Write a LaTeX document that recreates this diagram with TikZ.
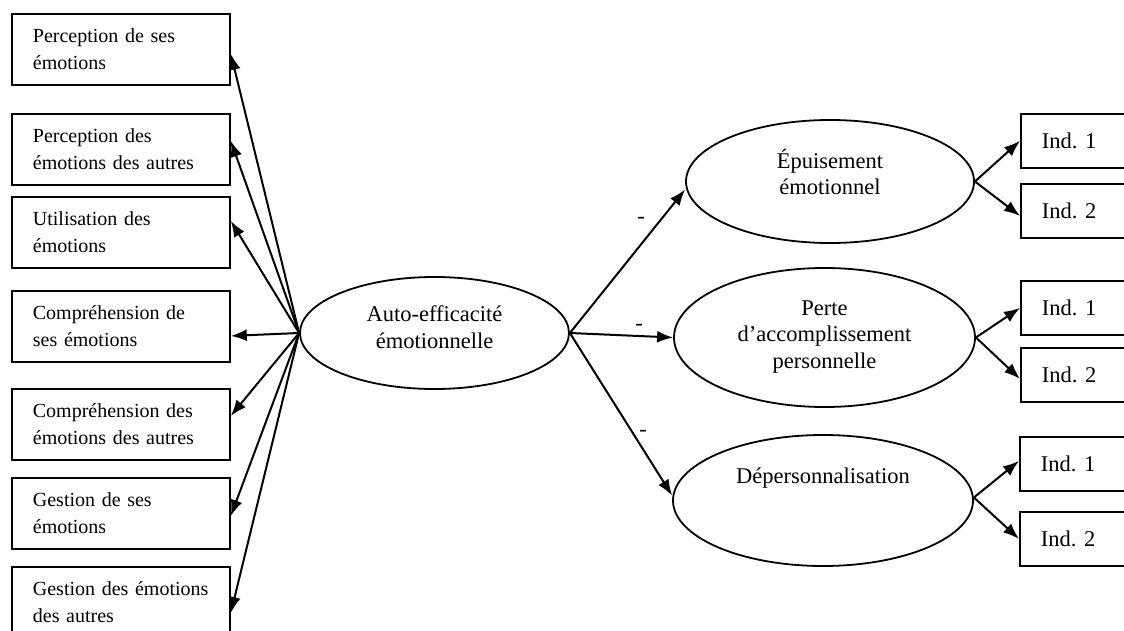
\documentclass[tikz,border=0pt]{standalone}
\usepackage{fontspec}
\setmainfont{Liberation Serif}
\usetikzlibrary{arrows.meta,shapes.geometric}
\begin{document}
\frenchspacing
\begin{tikzpicture}[x=1pt,y=-1pt,
  lbox/.style={draw,line width=1.8pt,minimum width=218pt,minimum height=71pt,text width=176pt,inner xsep=21pt,align=left,anchor=north west,font=\fontsize{20}{27}\selectfont},
  ibox/.style={draw,line width=1.8pt,minimum width=140pt,minimum height=54pt,text width=98pt,inner xsep=21pt,align=left,anchor=north west,font=\fontsize{22.5}{27}\selectfont},
  lat/.style={draw,ellipse,line width=1.8pt,inner sep=0pt},
  ltxt/.style={align=center,font=\fontsize{22.5}{26.5}\selectfont,inner sep=0pt},
  arr/.style={line width=2pt,-{Latex[length=16pt,width=12pt]}},
  minus/.style={font=\fontsize{22.5}{26}\selectfont,inner sep=0pt}
]
\useasboundingbox (0,0) rectangle (1124,631);
\clip (0,0) rectangle (1124,631);
% left boxes
\node[lbox] (b1) at (11,13) {Perception de ses\\émotions};
\node[lbox] (b2) at (11,113) {Perception des\\émotions des autres};
\node[lbox] (b3) at (11,196) {Utilisation des\\émotions};
\node[lbox] (b4) at (11,290) {Compréhension de\\ses émotions};
\node[lbox] (b5) at (11,388) {Compréhension des\\émotions des autres};
\node[lbox] (b6) at (11,477) {Gestion de ses\\émotions};
\node[lbox] (b7) at (11,566) {Gestion des émotions\\des autres};
% central latent
\node[lat,minimum width=269pt,minimum height=112pt] (ae) at (434.5,333) {};
\node[ltxt] (aet) at (434.5,327) {Auto-efficacité\\émotionnelle};
% right latents
\node[lat,minimum width=288pt,minimum height=123pt] (ep) at (830,181.5) {};
\node[ltxt] (ept) at (830,172) {Épuisement\\émotionnel};
\node[lat,minimum width=301pt,minimum height=139pt] (pe) at (824.5,337.5) {};
\node[ltxt] (pet) at (824.5,337) {Perte\\d’accomplissement\\personnelle};
\node[lat,minimum width=300pt,minimum height=131pt] (dp) at (823,500.5) {};
\node[ltxt] (dpt) at (823,478) {Dépersonnalisation};
% indicator boxes
\node[ibox] (e1) at (1020,113) {Ind. 1};
\node[ibox] (e2) at (1020,183) {Ind. 2};
\node[ibox] (p1) at (1020,280) {Ind. 1};
\node[ibox] (p2) at (1020,347) {Ind. 2};
\node[ibox] (d1) at (1019,436) {Ind. 1};
\node[ibox] (d2) at (1019,511) {Ind. 2};
% arrows to left boxes
\draw[arr] (ae.west) -- ([yshift=-4.5pt]b1.east);
\draw[arr] (ae.west) -- ([yshift=8.5pt]b2.east);
\draw[arr] (ae.west) -- ([yshift=11.5pt]b3.east);
\draw[arr] (ae.west) -- ([yshift=-9.5pt]b4.east);
\draw[arr] (ae.west) -- ([yshift=8.5pt]b5.east);
\draw[arr] (ae.west) -- ([yshift=-2.5pt]b6.east);
\draw[arr] (ae.west) -- ([yshift=-10.5pt]b7.east);
% arrows to right latents
\draw[arr] (ae.east) -- ([yshift=-8pt]ep.west);
\draw[arr] (ae.east) -- (pe.west);
\draw[arr] (ae.east) -- ([yshift=5pt]dp.west);
\node[minus] (m1) at (641,220) {-};
\node[minus] (m2) at (639,327) {-};
\node[minus] (m3) at (643,433) {-};
% arrows to indicators
\draw[arr] (ep.east) -- (e1.west);
\draw[arr] (ep.east) -- ([yshift=-5pt]e2.west);
\draw[arr] (pe.east) -- (p1.west);
\draw[arr] (pe.east) -- ([yshift=-4pt]p2.west);
\draw[arr] ([yshift=3pt]dp.east) -- ([yshift=3pt]d1.west);
\draw[arr] ([yshift=3pt]dp.east) -- (d2.west);
\end{tikzpicture}
\end{document}
